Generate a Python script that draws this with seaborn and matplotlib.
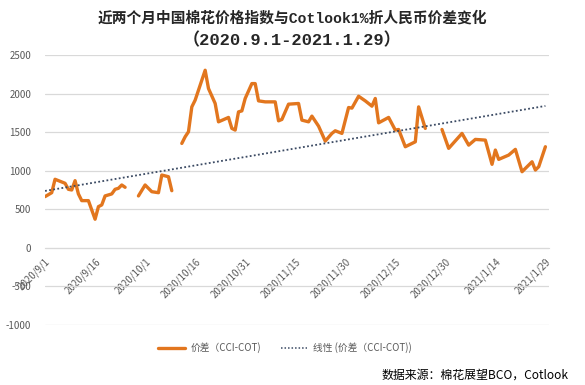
import numpy as np
import pandas as pd
import matplotlib
matplotlib.use('Agg')
import matplotlib.pyplot as plt
from matplotlib.lines import Line2D
import seaborn as sns

# Datos (None = hueco en la serie)
fechas = [
    '2020-09-01', '2020-09-03', '2020-09-04', '2020-09-07', '2020-09-08', '2020-09-09',
    '2020-09-10', '2020-09-11', '2020-09-12', '2020-09-14', '2020-09-16', '2020-09-17',
    '2020-09-18', '2020-09-19', '2020-09-21', '2020-09-22', '2020-09-23', '2020-09-24',
    '2020-09-25', '2020-09-27',
    '2020-09-29', '2020-10-01', '2020-10-03', '2020-10-05', '2020-10-06', '2020-10-08',
    '2020-10-09', '2020-10-11',
    '2020-10-12', '2020-10-13', '2020-10-14', '2020-10-15', '2020-10-16', '2020-10-19',
    '2020-10-20', '2020-10-22', '2020-10-23', '2020-10-26', '2020-10-27', '2020-10-28',
    '2020-10-29', '2020-10-30', '2020-10-31', '2020-11-02', '2020-11-03', '2020-11-04',
    '2020-11-06', '2020-11-09', '2020-11-10', '2020-11-11', '2020-11-13', '2020-11-16',
    '2020-11-17', '2020-11-19', '2020-11-20', '2020-11-22', '2020-11-24', '2020-11-26',
    '2020-11-27', '2020-11-29', '2020-12-01', '2020-12-02', '2020-12-04', '2020-12-06',
    '2020-12-08', '2020-12-09', '2020-12-10', '2020-12-13', '2020-12-15', '2020-12-16',
    '2020-12-18', '2020-12-21', '2020-12-22', '2020-12-24', '2020-12-26',
    '2020-12-29', '2020-12-31', '2021-01-04', '2021-01-06', '2021-01-08', '2021-01-11',
    '2021-01-13', '2021-01-14', '2021-01-15', '2021-01-18', '2021-01-20', '2021-01-22',
    '2021-01-25', '2021-01-26', '2021-01-27', '2021-01-29',
]
jiacha = [
    664, 715, 889, 837, 759, 750,
    871, 699, 612, 612, 371, 534,
    556, 673, 699, 759, 772, 815,
    785, None,
    673, 815, 728, 715, 944, 922,
    741, None,
    1354, 1440, 1505, 1828, 1915, 2303,
    2066, 1872, 1634, 1691, 1549, 1527,
    1763, 1776, 1937, 2130, 2130, 1906,
    1893, 1893, 1647, 1665, 1863, 1872,
    1656, 1634, 1708, 1578, 1384, 1484,
    1518, 1484, 1820, 1812, 1966, 1906,
    1837, 1937, 1621, 1691, 1527, 1535,
    1311, 1375, 1828, 1549, None,
    1535, 1290, 1484, 1332, 1406, 1397,
    1083, 1268, 1147, 1203, 1277, 987,
    1116, 1009, 1052, 1311,
]

# extremos de la línea de tendencia
fechas_tend = ['2020-09-01', '2021-01-29']
valores_tend = [738, 1840]

ticks_x = ['2020-09-01', '2020-09-16', '2020-10-01', '2020-10-16', '2020-10-31', '2020-11-15',
           '2020-11-30', '2020-12-15', '2020-12-30', '2021-01-14', '2021-01-29']
etiquetas_x = ['2020/9/1', '2020/9/16', '2020/10/1', '2020/10/16', '2020/10/31', '2020/11/15',
               '2020/11/30', '2020/12/15', '2020/12/30', '2021/1/14', '2021/1/29']
ticks_y = [-1000, -500, 0, 500, 1000, 1500, 2000, 2500]

titulo_1 = '近两个月中国棉花价格指数与Cotlook1%折人民币价差变化'
titulo_2 = '（2020.9.1-2021.1.29）'
nombre_serie = '价差（CCI-COT)'
nombre_tend = '线性 (价差（CCI-COT))'
fuente = '数据来源：棉花展望BCO，Cotlook'

NARANJA = '#E2761E'
AZUL = '#3B4A63'
GRIS = '#595959'
REJILLA = '#D9D9D9'

df = pd.DataFrame({'fecha': pd.to_datetime(fechas), 'valor': jiacha})
df['valor'] = df['valor'].astype(float)
df['tramo'] = df['valor'].isna().cumsum()
df_ok = df.dropna()
tend = pd.DataFrame({'fecha': pd.to_datetime(fechas_tend), 'valor': valores_tend})

sns.set_style('white')
plt.rcParams['font.family'] = ['Noto Sans CJK SC', 'DejaVu Sans']
fam_titulo = ['Liberation Mono', 'Noto Sans CJK SC']

fig = plt.figure(figsize=(5.85, 3.85), dpi=100)
ax = fig.add_axes([0.077, 0.156, 0.861, 0.701])

sns.lineplot(data=df_ok, x='fecha', y='valor', units='tramo', estimator=None,
             color=NARANJA, linewidth=2.4, ax=ax, legend=False)
sns.lineplot(data=tend, x='fecha', y='valor', color=AZUL, linewidth=1.3,
             linestyle=(0, (1, 1.3)), ax=ax, legend=False)

# el eje x cruza en 0 (esto recrea los ticks, por eso va primero)
for lado in ['top', 'right', 'left']:
    ax.spines[lado].set_visible(False)
ax.spines['bottom'].set_position(('data', 0))
ax.spines['bottom'].set_color(REJILLA)

ax.set_ylim(-1000, 2500)
ax.set_xlim(pd.Timestamp('2020-09-01'), pd.Timestamp('2021-01-30'))
ax.tick_params(axis='x', length=4, color=REJILLA, pad=2)
ax.tick_params(axis='y', length=0, pad=10)
ax.set_yticks(ticks_y)
ax.set_yticklabels([str(v) for v in ticks_y], color=GRIS, fontsize=7)
ax.yaxis.grid(True, color=REJILLA, linewidth=0.9)
ax.set_xticks(pd.to_datetime(ticks_x))
ax.set_xticklabels(etiquetas_x, color=GRIS, fontsize=7, rotation=45,
                   ha='right', va='top', rotation_mode='anchor')
ax.set_xlabel('')
ax.set_ylabel('')

fig.text(0.5, 0.953, titulo_1, ha='center', va='center', fontsize=10.6,
         fontweight='bold', family=fam_titulo)
fig.text(0.5, 0.895, titulo_2, ha='center', va='center', fontsize=12.3,
         fontweight='bold', family=fam_titulo)

handles = [Line2D([], [], color=NARANJA, linewidth=2.4),
           Line2D([], [], color=AZUL, linewidth=1.1, linestyle=(0, (1, 1.3)))]
fig.legend(handles, [nombre_serie, nombre_tend], loc='center',
           bbox_to_anchor=(0.487, 0.097), ncol=2, frameon=False, fontsize=7,
           labelcolor=GRIS, handlelength=2.7, columnspacing=2.0, handletextpad=0.6)

fig.text(0.972, 0.026, fuente, ha='right', va='center', fontsize=8.6, color='black')

fig.savefig('out.png', dpi=100)
plt.close(fig)
